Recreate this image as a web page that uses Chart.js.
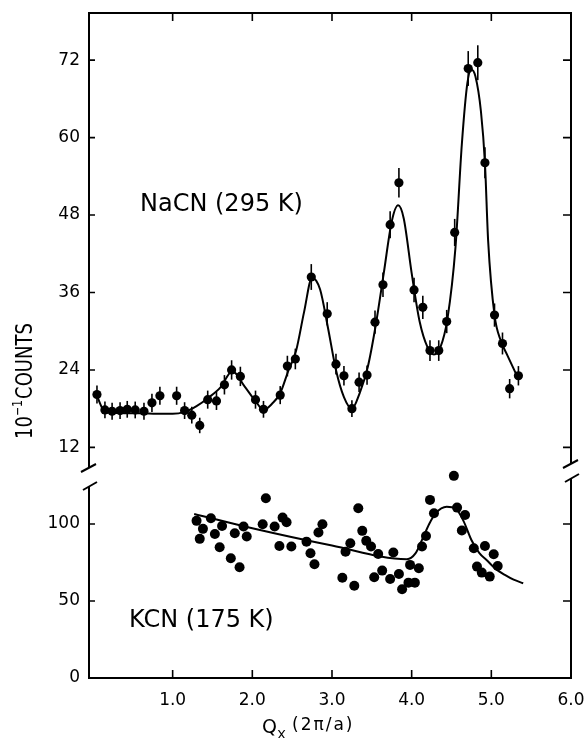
<!DOCTYPE html>
<html>
<head>
<meta charset="utf-8">
<script src="https://cdn.jsdelivr.net/npm/chart.js@4.4.1/dist/chart.umd.min.js"></script>
<style>
  html, body { margin: 0; padding: 0; background: #fff; }
  canvas { display: block; }
</style>
</head>
<body>
<canvas id="scan" width="587" height="738"></canvas>
<script>
// NaCN (295 K) -- points with error bars
var nacnQ = [0.05, 0.15, 0.24, 0.34, 0.43, 0.53, 0.64, 0.74, 0.84, 1.05,
             1.15, 1.24, 1.34, 1.44, 1.55, 1.65, 1.74, 1.85, 2.04, 2.14,
             2.35, 2.44, 2.54, 2.74, 2.94, 3.05, 3.15, 3.25, 3.34, 3.44,
             3.54, 3.64, 3.73, 3.84, 4.03, 4.14, 4.23, 4.34, 4.44, 4.54,
             4.71, 4.83, 4.92, 5.04, 5.14, 5.23, 5.34];
var nacnCounts = [20.2, 17.8, 17.6, 17.7, 17.9, 17.8, 17.6, 18.9, 20.0, 20.0,
                  17.7, 17.0, 15.4, 19.4, 19.2, 21.7, 24.0, 23.0, 19.4, 17.9,
                  20.1, 24.6, 25.7, 38.4, 32.7, 24.9, 23.1, 18.0, 22.1, 23.2,
                  31.4, 37.2, 46.5, 53.0, 36.4, 33.7, 27.0, 27.0, 31.5, 45.3,
                  70.7, 71.6, 56.1, 32.5, 28.1, 21.1, 23.1];
var nacnErr = [1.4, 1.3, 1.3, 1.3, 1.3, 1.3, 1.3, 1.4, 1.4, 1.4,
               1.3, 1.3, 1.2, 1.4, 1.4, 1.5, 1.5, 1.5, 1.4, 1.3,
               1.4, 1.6, 1.6, 2.0, 1.8, 1.6, 1.5, 1.3, 1.5, 1.5,
               1.8, 1.9, 2.1, 2.3, 1.9, 1.8, 1.6, 1.6, 1.8, 2.1,
               2.7, 2.7, 2.4, 1.8, 1.7, 1.5, 1.5];

// NaCN fitted curve
var nacnFitQ = [0.05, 0.12, 0.2, 0.4, 0.6, 0.8, 1.0, 1.15, 1.3, 1.45, 1.6, 1.75,
                1.9, 2.05, 2.14, 2.25, 2.35, 2.45, 2.55, 2.65, 2.75, 2.85, 2.95,
                3.05, 3.15, 3.25, 3.35, 3.45, 3.55, 3.65, 3.75, 3.83, 3.9, 4.0,
                4.1, 4.2, 4.28, 4.36, 4.45, 4.55, 4.63, 4.7, 4.75, 4.8, 4.87,
                4.92, 4.96, 5.04, 5.12, 5.2, 5.31];
var nacnFitY = [20.0, 18.0, 17.4, 17.3, 17.3, 17.2, 17.2, 17.5, 18.4, 19.7, 21.3, 23.8,
                21.5, 19.0, 17.8, 18.8, 20.4, 23.8, 27.0, 33.0, 38.3, 36.5, 30.5,
                24.0, 19.8, 18.0, 20.5, 24.5, 31.0, 39.0, 47.0, 49.5, 47.5, 39.0,
                31.5, 27.5, 26.4, 27.5, 32.0, 43.0, 59.0, 68.5, 70.5, 69.5, 64.0,
                56.0, 44.0, 32.5, 28.5, 26.3, 23.4];

// KCN (175 K) -- points
var kcnQ = [1.30, 1.34, 1.38, 1.48, 1.53, 1.59, 1.62, 1.73, 1.78, 1.84,
            1.89, 1.93, 2.13, 2.17, 2.28, 2.34, 2.38, 2.43, 2.49, 2.68,
            2.73, 2.78, 2.83, 2.88, 3.13, 3.17, 3.23, 3.28, 3.33, 3.38,
            3.43, 3.49, 3.53, 3.58, 3.63, 3.73, 3.77, 3.84, 3.88, 3.96,
            3.98, 4.04, 4.09, 4.13, 4.18, 4.23, 4.28, 4.53, 4.57, 4.63,
            4.67, 4.78, 4.82, 4.88, 4.92, 4.98, 5.03, 5.08];
var kcnCounts = [102, 90.3, 96.8, 103.7, 93.5, 84.9, 98.7, 77.7, 94.0, 71.9,
                 98.3, 91.8, 99.8, 116.7, 98.3, 85.7, 104.1, 101.1, 85.3, 88.5,
                 81.0, 73.8, 94.4, 99.8, 65.1, 82.0, 87.4, 59.9, 110.2, 95.5,
                 89.0, 85.3, 65.4, 80.5, 69.7, 64.3, 81.4, 67.5, 57.6, 61.9,
                 73.4, 61.9, 71.2, 85.3, 92.2, 115.6, 106.9, 131.2, 110.6, 95.7,
                 105.8, 84.2, 72.3, 68.4, 85.7, 65.8, 80.3, 72.7];

// KCN fitted curve
var kcnFitQ = [1.27, 2.0, 3.0, 3.94, 4.05, 4.13, 4.22, 4.30, 4.44, 4.55, 4.65,
               4.75, 4.85, 4.94, 5.05, 5.17, 5.28, 5.40];
var kcnFitY = [106.5, 97.2, 86.0, 77.1, 81.0, 89.6, 100.0, 106.9, 111.2, 110.0, 102.0,
               89.6, 81.0, 76.6, 71.0, 66.9, 63.8, 61.5];

var xTicks = [1, 2, 3, 4, 5, 6];
var nacnTicks = [12, 24, 36, 48, 60, 72];
var kcnTicks = [0, 50, 100];

function pairs(xs, ys) {
    return xs.map(function (x, i) { return {x: x, y: ys[i]}; });
}

var tickFont = {family: 'DejaVu Sans', size: 17};

// рамка, внутренние засечки, разрывы оси, подписи
var framePlugin = {
    id: 'frame',
    afterDatasetsDraw: function (chart) {
        var ctx = chart.ctx;
        var a = chart.chartArea;
        var sx = chart.scales.x, st = chart.scales.yTop, sb = chart.scales.yBot;
        ctx.save();

        // error bars for NaCN
        ctx.strokeStyle = '#000';
        ctx.lineWidth = 1.6;
        nacnQ.forEach(function (q, i) {
            var px = sx.getPixelForValue(q);
            ctx.beginPath();
            ctx.moveTo(px, st.getPixelForValue(nacnCounts[i] + nacnErr[i]));
            ctx.lineTo(px, st.getPixelForValue(nacnCounts[i] - nacnErr[i]));
            ctx.stroke();
        });

        // frame
        ctx.lineWidth = 2;
        ctx.strokeRect(a.left, a.top, a.right - a.left, a.bottom - a.top);

        // inward ticks
        ctx.lineWidth = 1.6;
        xTicks.forEach(function (v) {
            var px = sx.getPixelForValue(v);
            if (v < 6) {
                ctx.beginPath();
                ctx.moveTo(px, a.bottom); ctx.lineTo(px, a.bottom - 8);
                ctx.moveTo(px, a.top); ctx.lineTo(px, a.top + 8);
                ctx.stroke();
            }
        });
        nacnTicks.forEach(function (v) {
            var py = st.getPixelForValue(v);
            ctx.beginPath();
            ctx.moveTo(a.left, py); ctx.lineTo(a.left + 6, py);
            ctx.moveTo(a.right, py); ctx.lineTo(a.right - 8, py);
            ctx.stroke();
        });
        kcnTicks.forEach(function (v) {
            if (v === 0) return;
            var py = sb.getPixelForValue(v);
            ctx.beginPath();
            ctx.moveTo(a.left, py); ctx.lineTo(a.left + 6, py);
            ctx.moveTo(a.right, py); ctx.lineTo(a.right - 8, py);
            ctx.stroke();
        });

        // axis breaks
        function brk(x, y1, y2) {
            ctx.fillStyle = '#fff';
            ctx.fillRect(x - 3, y1, 6, y2 - y1);
            ctx.strokeStyle = '#000';
            ctx.lineWidth = 2;
            ctx.beginPath();
            ctx.moveTo(x - 8, y1 + 5); ctx.lineTo(x + 7, y1 - 3);
            ctx.moveTo(x - 6, y2 + 4); ctx.lineTo(x + 8, y2 - 4);
            ctx.stroke();
        }
        brk(a.left, 467, 486);
        brk(a.right, 463, 478);

        // text
        ctx.fillStyle = '#000';
        ctx.textBaseline = 'alphabetic';
        ctx.textAlign = 'left';
        ctx.font = '24px "DejaVu Sans"';
        ctx.fillText('NaCN (295 K)', 140, 211);
        ctx.fillText('KCN (175 K)', 129, 627);

        // x title
        ctx.font = '19px "DejaVu Sans"';
        ctx.fillText('Q', 262, 733);
        ctx.font = '13px "DejaVu Sans"';
        ctx.fillText('X', 277, 739);
        ctx.font = '17px "DejaVu Sans"';
        ctx.letterSpacing = '2px';
        ctx.fillText('(2\u03c0/a)', 292, 730);
        ctx.letterSpacing = '0px';

        // y title
        ctx.translate(32, 439);
        ctx.rotate(-Math.PI / 2);
        ctx.scale(1, 1.25);
        ctx.font = '18px "DejaVu Sans"';
        ctx.fillText('10', 0, 0);
        var w = ctx.measureText('10').width;
        ctx.font = '11px "DejaVu Sans"';
        ctx.fillText('\u22121', w, -8);
        w += ctx.measureText('\u22121').width + 1;
        ctx.font = '18px "DejaVu Sans"';
        ctx.fillText('COUNTS', w, 0);

        ctx.restore();
    }
};

function noPad(s) {
    s.paddingLeft = 0; s.paddingRight = 0;
    s.paddingTop = 0; s.paddingBottom = 0;
}

var chart = new Chart(document.getElementById('scan').getContext('2d'), {
    data: {
        datasets: [
            {
                type: 'scatter',
                data: pairs(nacnQ, nacnCounts),
                yAxisID: 'yTop',
                pointRadius: 4.6,
                pointBackgroundColor: '#000',
                pointBorderWidth: 0
            },
            {
                type: 'line',
                data: pairs(nacnFitQ, nacnFitY),
                yAxisID: 'yTop',
                borderColor: '#000',
                borderWidth: 2,
                pointRadius: 0,
                cubicInterpolationMode: 'monotone',
                fill: false
            },
            {
                type: 'scatter',
                data: pairs(kcnQ, kcnCounts),
                yAxisID: 'yBot',
                pointRadius: 5,
                pointBackgroundColor: '#000',
                pointBorderWidth: 0,
                clip: false
            },
            {
                type: 'line',
                data: pairs(kcnFitQ, kcnFitY),
                yAxisID: 'yBot',
                borderColor: '#000',
                borderWidth: 2,
                pointRadius: 0,
                cubicInterpolationMode: 'monotone',
                fill: false
            }
        ]
    },
    options: {
        responsive: false,
        animation: false,
        layout: {padding: {top: 13, right: 16, left: 0, bottom: 0}},
        plugins: {
            legend: {display: false},
            tooltip: {enabled: false}
        },
        scales: {
            x: {
                type: 'linear',
                position: 'bottom',
                min: -0.05,
                max: 6.0,
                grid: {display: false, drawTicks: false},
                border: {display: false},
                afterBuildTicks: function (s) { s.ticks = xTicks.map(function (v) { return {value: v}; }); },
                afterFit: function (s) { s.height = 60; noPad(s); },
                ticks: {
                    color: '#000',
                    font: tickFont,
                    padding: 12,
                    maxRotation: 0,
                    callback: function (v) { return v.toFixed(1); }
                }
            },
            // нижняя панель объявляется первой: в стеке Chart.js она ложится вниз
            yBot: {
                type: 'linear',
                position: 'left',
                stack: 'panels',
                stackWeight: 208,
                min: 0,
                max: 135,
                grid: {display: false, drawTicks: false},
                border: {display: false},
                afterBuildTicks: function (s) { s.ticks = kcnTicks.map(function (v) { return {value: v}; }); },
                afterFit: function (s) { s.width = 89; noPad(s); },
                ticks: {color: '#000', font: tickFont, padding: 9}
            },
            yTop: {
                type: 'linear',
                position: 'left',
                stack: 'panels',
                stackWeight: 457,
                min: 8.5,
                max: 79.3,
                grid: {display: false, drawTicks: false},
                border: {display: false},
                afterBuildTicks: function (s) { s.ticks = nacnTicks.map(function (v) { return {value: v}; }); },
                afterFit: function (s) { s.width = 89; noPad(s); },
                ticks: {color: '#000', font: tickFont, padding: 9}
            }
        }
    },
    plugins: [framePlugin]
});
</script>
</body>
</html>
